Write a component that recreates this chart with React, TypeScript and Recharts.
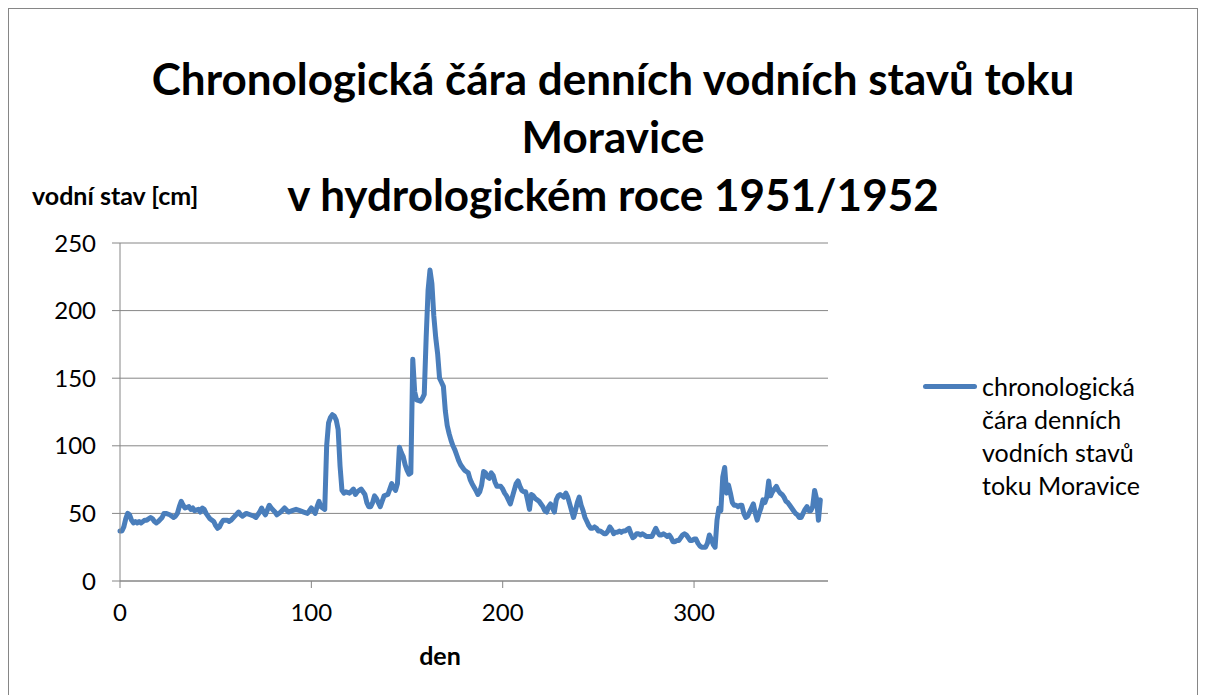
import { LineChart, Line, XAxis, YAxis, CartesianGrid } from 'recharts'

// day of the hydrological year and the water level read for it [cm]
const DAYS = [
  0, 1, 2, 3, 4, 5, 6, 7, 8, 9, 10, 11, 12, 13, 14, 15, 16, 17, 18, 19, 20, 22, 23, 24, 26, 28, 29, 30,
  31, 32, 33, 34, 36, 37, 38, 39, 41, 42, 43, 44, 45, 46, 47, 48, 49, 50, 51, 52, 53, 54, 56, 57, 58, 60,
  62, 63, 64, 66, 68, 70, 71, 73, 74, 75, 76, 78, 79, 81, 82, 84, 86, 88, 90, 92, 94, 96, 98, 100, 102,
  103, 104, 105, 107, 108, 109, 110, 111, 112, 113, 114, 115, 116, 117, 118, 120, 122, 123, 124, 126,
  128, 129, 130, 131, 132, 133, 134, 135, 136, 137, 138, 140, 141, 142, 143, 144, 145, 146, 147, 148,
  149, 150, 151, 152, 153, 154, 155, 157, 158, 159, 160, 161, 162, 163, 164, 165, 166, 167, 168, 169,
  170, 171, 172, 173, 174, 175, 176, 177, 178, 180, 181, 182, 183, 184, 186, 187, 188, 189, 190, 191,
  192, 193, 194, 195, 196, 197, 199, 200, 201, 202, 203, 204, 205, 206, 207, 208, 209, 210, 211, 212,
  213, 214, 215, 216, 217, 218, 219, 220, 221, 222, 223, 224, 225, 226, 227, 228, 229, 230, 231, 232,
  233, 234, 235, 236, 237, 238, 239, 240, 241, 242, 243, 244, 245, 246, 247, 248, 249, 250, 251, 252,
  253, 254, 255, 256, 257, 258, 259, 260, 261, 262, 263, 264, 265, 266, 267, 268, 269, 270, 271, 272,
  273, 274, 275, 276, 277, 278, 279, 280, 281, 282, 283, 284, 285, 286, 287, 288, 289, 290, 291, 292,
  293, 294, 295, 296, 297, 298, 299, 300, 301, 302, 303, 304, 305, 306, 307, 308, 309, 310, 311, 312,
  313, 314, 315, 316, 317, 318, 319, 320, 321, 322, 323, 324, 325, 326, 327, 328, 329, 330, 331, 332,
  333, 334, 335, 336, 337, 338, 339, 340, 341, 342, 343, 344, 345, 346, 347, 348, 349, 350, 351, 352,
  353, 354, 355, 356, 357, 358, 359, 360, 361, 362, 363, 364, 365, 366,
]
const LEVELS = [
  37, 37, 40, 46, 50, 49, 45, 43, 44, 43, 44, 43, 44, 45, 45, 46, 47, 46, 44, 43, 44, 47, 50, 50, 49, 47, 48, 50,
  55, 59, 56, 54, 55, 53, 54, 52, 53, 51, 54, 53, 50, 48, 46, 45, 44, 41, 39, 40, 43, 45, 45, 44, 45, 48,
  51, 49, 48, 50, 49, 48, 47, 51, 54, 51, 49, 56, 54, 51, 49, 51, 54, 51, 52, 53, 52, 51, 50, 54, 50,
  55, 59, 55, 53, 100, 117, 121, 123, 122, 119, 112, 85, 67, 65, 66, 65, 68, 64, 66, 68,
  64, 58, 55, 55, 58, 63, 61, 58, 55, 59, 63, 64, 68, 72, 69, 67, 72, 99, 95, 92,
  86, 82, 79, 80, 164, 140, 134, 133, 135, 138, 180, 215, 230, 220, 196, 180, 168, 150, 147, 144,
  126, 115, 109, 104, 100, 97, 93, 89, 86, 82, 81, 80, 75, 72, 67, 64, 66, 71, 81, 80,
  77, 76, 80, 78, 73, 70, 70, 68, 65, 63, 60, 57, 62, 67, 72, 74, 70, 67, 66, 66,
  60, 53, 64, 63, 61, 60, 59, 57, 55, 52, 51, 55, 57, 54, 51, 60, 63, 64, 63, 62,
  65, 62, 57, 52, 47, 52, 58, 62, 56, 52, 47, 44, 41, 39, 39, 40, 39, 37, 37, 36,
  35, 35, 37, 40, 38, 35, 36, 36, 37, 36, 37, 37, 38, 39, 35, 32, 33, 35, 35, 34,
  35, 34, 33, 33, 33, 33, 36, 39, 36, 34, 34, 35, 34, 33, 34, 32, 29, 29, 30, 30,
  32, 34, 35, 34, 32, 30, 30, 31, 31, 28, 26, 25, 25, 25, 28, 34, 31, 27, 25, 45,
  54, 52, 77, 84, 65, 71, 65, 58, 56, 56, 55, 56, 56, 50, 47, 48, 51, 54, 57, 50,
  45, 50, 54, 60, 58, 62, 74, 63, 66, 68, 70, 67, 65, 64, 62, 59, 58, 56, 54, 52,
  50, 49, 47, 47, 50, 53, 55, 52, 52, 55, 67, 61, 45, 60,
]

const X_TICKS = [0, 100, 200, 300]
const Y_TICKS = [0, 50, 100, 150, 200, 250]

const TITLE_LINES = [
  'Chronologická čára denních vodních stavů toku',
  'Moravice',
  'v hydrologickém roce 1951/1952',
]
const LEGEND_LINES = ['chronologická', 'čára denních', 'vodních stavů', 'toku Moravice']
const Y_TITLE = 'vodní stav [cm]'
const X_TITLE = 'den'

const FONT = 'Lato, "Open Sans", sans-serif'
const LINE_BLUE = '#4A7EBB'
const GRID_GRAY = '#868686'

const data = DAYS.map((day, i) => ({ day, level: LEVELS[i] }))

export default function App() {
  return (
    <div
      style={{
        position: 'relative',
        width: 1188,
        height: 700,
        border: `1px solid ${GRID_GRAY}`,
        fontFamily: FONT,
        color: '#000',
        background: '#fff',
      }}
    >
      {TITLE_LINES.map((line, i) => (
        <div
          key={line}
          style={{
            position: 'absolute',
            left: 0,
            width: 1208,
            top: 43 + i * 58,
            textAlign: 'center',
            fontSize: 44,
            fontWeight: 700,
            lineHeight: '52px',
          }}
        >
          {line}
        </div>
      ))}

      <div
        style={{
          position: 'absolute',
          left: 23,
          top: 172,
          fontSize: 25,
          fontWeight: 700,
          lineHeight: '28px',
          whiteSpace: 'nowrap',
        }}
      >
        {Y_TITLE}
      </div>

      <div
        style={{
          position: 'absolute',
          left: 381,
          width: 100,
          top: 632,
          textAlign: 'center',
          fontSize: 25,
          fontWeight: 700,
          lineHeight: '28px',
        }}
      >
        {X_TITLE}
      </div>

      <LineChart
        width={1188}
        height={690}
        data={data}
        margin={{ top: 234, right: 369, left: 51, bottom: 78 }}
      >
        <CartesianGrid vertical={false} stroke={GRID_GRAY} strokeWidth={1} />
        <XAxis
          dataKey="day"
          type="number"
          domain={[0, 370]}
          ticks={X_TICKS}
          interval={0}
          height={40}
          stroke={GRID_GRAY}
          tickSize={7}
          tickMargin={16}
          tick={{ fill: '#000', fontSize: 24, fontFamily: FONT }}
        />
        <YAxis
          type="number"
          domain={[0, 250]}
          ticks={Y_TICKS}
          interval={0}
          width={60}
          stroke={GRID_GRAY}
          tickSize={8}
          tickMargin={16}
          tick={{ fill: '#000', fontSize: 24, fontFamily: FONT }}
        />
        <Line
          type="linear"
          dataKey="level"
          stroke={LINE_BLUE}
          strokeWidth={5}
          strokeLinejoin="round"
          strokeLinecap="round"
          dot={false}
          activeDot={false}
          isAnimationActive={false}
        />
      </LineChart>

      <div style={{ position: 'absolute', left: 914, top: 361 }}>
        {LEGEND_LINES.map((line, i) => (
          <div
            key={line}
            style={{
              position: 'relative',
              paddingLeft: 59,
              fontSize: 25,
              lineHeight: '33px',
              whiteSpace: 'nowrap',
            }}
          >
            {i === 0 && (
              <span
                style={{
                  position: 'absolute',
                  left: 0,
                  top: 14,
                  width: 54,
                  height: 5,
                  borderRadius: 3,
                  background: LINE_BLUE,
                }}
              />
            )}
            {line}
          </div>
        ))}
      </div>
    </div>
  )
}
